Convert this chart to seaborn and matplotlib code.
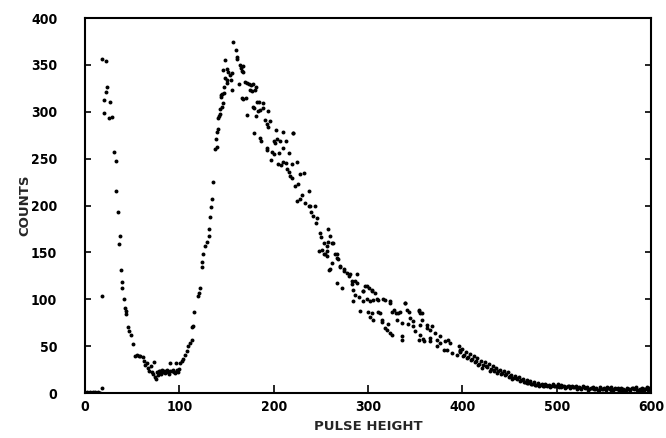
import pandas as pd
import matplotlib
matplotlib.use("Agg")
import matplotlib.pyplot as plt
import seaborn as sns

# empty channels + first peak + valley + rising edge
pulse_low = [1, 2, 3, 4, 5, 6, 7, 8, 9, 10, 11, 12, 13, 14, 15, 16, 17.7, 17.7,
             18.4, 20.5, 20, 22, 22.8, 23.3, 25.7, 26.8, 28.3, 30.7, 32.5, 33.2,
             34.6, 35.7, 36.8, 37.8, 38.9, 39.6, 41, 42.4, 43, 43.8, 46, 47, 48.5,
             51, 53, 55, 57, 58.3, 61.5, 63, 64, 66, 67, 68, 70, 71, 72, 73, 74,
             75, 76, 77, 78, 79, 80, 81, 82, 83, 84, 85, 86, 87, 88, 89, 90, 90.5,
             92, 93, 94, 95, 96, 97, 98, 99, 100, 101, 102.5, 104, 106, 108, 109,
             111, 113, 113.5, 115, 116, 120, 120.5, 122, 124, 124.5, 125, 127, 129,
             131, 131.5, 132.5, 134, 135]
counts_low = [0, 1, 0, 0, 1, 0, 0, 1, 0, 0, 1, 0, 0, 1, 0, 0, 5, 103,
              356, 313, 299, 354, 321, 327, 293, 311, 295, 257, 248, 215,
              193, 159, 168, 131, 118, 112, 100, 91, 88, 84, 70, 66, 62,
              52, 40, 41, 39, 40, 38, 34, 30, 32, 27, 24, 29, 22, 20, 33, 17,
              15, 22, 19, 24, 21, 23, 20, 25, 22, 24, 21, 23, 25, 22, 20, 32, 24,
              23, 25, 22, 21, 32, 25, 24, 22, 26, 32, 34, 36, 41, 45, 50,
              53, 57, 70, 72, 86, 103, 107, 112, 134, 140, 148, 157, 161,
              167, 175, 188, 198, 207]

# main peak and upper part of the falling edge
pulse_peak = [136, 138, 139, 139.5, 140, 140.5, 141, 142, 143, 143.5, 145, 146,
              144, 144.5, 145.5, 147, 147.5, 148, 150, 150.5, 146, 148.5, 151,
              152, 154, 154.5, 155.5, 155.5, 156.6, 160, 161, 161.5, 163, 164,
              165, 166, 167, 168, 166, 168, 171, 170, 172, 174, 176, 178, 175,
              177, 178.5, 180, 181, 172, 181, 179, 182, 183, 184, 185, 188.5,
              189, 191, 192.6, 194.4, 194.5, 196, 179, 186, 187, 192.6, 192.6,
              198, 200, 200, 201.5, 202.5, 203.5, 206, 207, 209.5, 210.3, 213,
              216.6, 220, 221, 197, 205, 207.5, 210, 213, 214, 216, 217.4, 219,
              219, 224.4, 228, 232, 222.7, 224.5, 226, 228, 230, 233, 237, 237,
              238.6, 240, 242, 244, 245, 245.6]
counts_peak = [225, 260, 271, 262, 279, 282, 293, 296, 298, 303, 305, 309,
               318, 316, 319, 320, 327, 336, 334, 331, 345, 355, 346,
               343, 339, 334, 341, 323, 375, 366, 359, 356, 330, 350,
               347, 344, 349, 343, 315, 314, 315, 332, 331, 330, 329, 330, 323,
               322, 305, 323, 326, 297, 296, 304, 311, 301, 311, 302, 304,
               309, 291, 287, 284, 301, 290, 277, 272, 269, 261, 259,
               257, 255, 269, 267, 281, 271, 256, 269, 278, 261, 269,
               256, 277, 277, 249, 244, 243, 246, 245, 239, 236, 232, 229,
               244, 246, 234, 235, 221, 205, 223, 207, 211, 203, 216, 200,
               200, 193, 189, 200, 181, 187]

# lower falling edge, two bands
pulse_mid = [248.4, 249, 250, 251, 253, 253, 254.5, 256, 256, 256, 258, 258,
             258.7, 260, 260, 261.5, 261.6, 263, 265, 266.8, 267, 267, 268.6,
             270.4, 270.4, 272, 274, 274, 277.4, 280, 281, 283, 283, 284.5,
             284.5, 286, 286, 288, 288, 290, 291.6, 295, 295, 297, 298.7, 300.4,
             300.5, 302, 302, 304, 305.7, 307.5, 309, 311, 313, 314.5, 316, 320,
             321.6, 323, 325, 325, 330, 330.4, 334, 335.7, 336, 339, 342.7, 343,
             348, 350, 353.6, 355, 355, 357, 358.7, 362, 366, 367.6, 371, 372.8,
             376.5, 383.5, 385, 388.8, 394, 295, 298.7, 304, 305.7, 311, 318,
             323.4, 327, 332, 339, 341, 353.5, 357, 344.6, 348, 355, 362, 366,
             376.5, 381.8, 387, 397.7, 304, 314.6, 318, 323.4, 335.8, 353.5,
             358.8, 366, 373, 380]
counts_mid = [151.5, 171, 166, 153, 160.5, 148, 148, 157, 146, 151.5, 175, 161,
              131, 168, 132, 160.5, 139, 160, 148, 148, 144.5, 117.6, 143,
              135, 134, 112, 132, 130, 128, 125, 126.5, 119.4, 116, 110,
              98, 105, 119.4, 126.5, 117.6, 102.6, 87, 108.6, 98, 114, 100, 86,
              112, 98, 81, 110, 78, 107, 100, 86, 85.6, 76, 100, 67.5,
              74, 98, 86, 62, 85.6, 78, 86, 75, 57, 96, 74, 86,
              72, 66, 87, 85.6, 62, 78, 57.6, 73, 58.7, 72, 64, 56.8,
              53, 46, 56.8, 42.5, 40.8, 108.6, 114, 108.6, 99.7, 99.7, 99.7,
              96, 89, 85.5, 96, 89, 89, 85.5, 80, 76.5, 73, 69.4, 67.5,
              60.4, 55, 53.3, 46, 85.5, 78, 69.4, 64, 60.4, 56.8,
              55, 55, 49.7, 46]

# tail of the spectrum
pulse_tail = [396, 398, 400, 402, 404, 406, 408, 410, 412, 414, 416, 418, 420,
              422, 424, 426, 428, 430, 432, 434, 436, 438, 440, 442, 444, 446, 448, 450,
              452, 454, 456, 458, 460, 462, 464, 466, 468, 470, 472, 474, 476, 478, 480,
              482, 484, 486, 488, 490, 492, 494, 496, 498, 500, 502, 504, 506, 508, 510,
              512, 514, 516, 518, 520, 522, 524, 526, 528, 530, 532, 534, 536, 538, 540,
              542, 544, 546, 548, 550, 552, 554, 556, 558, 560, 562, 564, 566, 568, 570,
              572, 574, 576, 578, 580, 582, 584, 586, 588, 590, 592, 594, 596, 598]
counts_tail = [50, 44, 47, 41, 44, 38, 42, 36, 39, 34, 37, 31, 34,
               30, 33, 28, 31, 26, 29, 24, 27, 23, 25, 21, 23, 20, 22, 18,
               19, 16, 18, 15, 17, 14, 15, 12, 14, 11, 13, 10, 12, 9, 11,
               9, 10, 8, 10, 7, 9, 8, 10, 7, 8, 6, 9, 7, 8, 6,
               7, 5, 8, 6, 7, 5, 6, 4, 7, 5, 6, 4, 5, 6, 4,
               5, 3, 6, 4, 5, 3, 5, 4, 6, 3, 5, 4, 3, 5, 4,
               3, 5, 4, 3, 5, 4, 6, 3, 4, 5, 3, 4, 6, 5]

pulse_tail2 = [397, 401, 405, 409, 413, 417, 421, 425, 429, 433, 437, 441, 445,
               449, 453, 457, 461, 465, 469, 473, 477, 481, 485, 489, 493, 497,
               501, 505, 509, 513, 517, 521, 525, 529, 533, 537, 541, 545, 549,
               553, 557, 561, 565, 569, 573, 577, 581, 585, 589, 593, 597]
counts_tail2 = [45, 40, 37, 35, 33, 30, 27, 29, 24, 25, 21, 20, 19,
                17, 15, 16, 13, 12, 11, 10, 9, 8, 7, 9, 6, 8,
                10, 6, 5, 7, 6, 4, 5, 6, 3, 5, 4, 3, 4,
                6, 3, 4, 5, 2, 3, 4, 5, 3, 2, 4, 3]

x_ticks = [0, 100, 200, 300, 400, 500, 600]
y_ticks = [0, 50, 100, 150, 200, 250, 300, 350, 400]

parts = [(pulse_low, counts_low), (pulse_peak, counts_peak), (pulse_mid, counts_mid),
         (pulse_tail, counts_tail), (pulse_tail2, counts_tail2)]
data = pd.concat([pd.DataFrame({"pulse": p, "counts": c}) for p, c in parts],
                 ignore_index=True)

sns.set_theme(style="white")
plt.rcParams["font.family"] = ["DejaVu Sans"]

fig = plt.figure(figsize=(6.66, 4.38), dpi=100)
ax = fig.add_axes([0.1276, 0.1027, 0.85, 0.856])
sns.scatterplot(data=data, x="pulse", y="counts", color="black", s=8,
                linewidth=0, ax=ax, legend=False)

ax.set_xlim(0, 600)
ax.set_ylim(0, 400)
ax.set_xticks(x_ticks)
ax.set_yticks(y_ticks)
ax.tick_params(axis="x", direction="in", length=6, width=1.2, pad=5,
               bottom=True, top=False, colors="black")
ax.tick_params(axis="y", direction="in", length=4, width=1.2, pad=20,
               left=True, right=True, colors="black")
for lab in ax.get_xticklabels() + ax.get_yticklabels():
    lab.set_fontweight("bold")
    lab.set_fontstretch("condensed")
    lab.set_fontsize(10)
for s in ax.spines.values():
    s.set_color("black")
    s.set_linewidth(1.5)

ax.set_xlabel("PULSE HEIGHT", fontsize=9.5, fontweight="bold")
ax.set_ylabel("COUNTS", fontsize=9.5, fontweight="bold")
ax.xaxis.set_label_coords(0.5, -0.072)
ax.yaxis.set_label_coords(-0.095, 0.5)

fig.savefig("out.png")
plt.close(fig)
